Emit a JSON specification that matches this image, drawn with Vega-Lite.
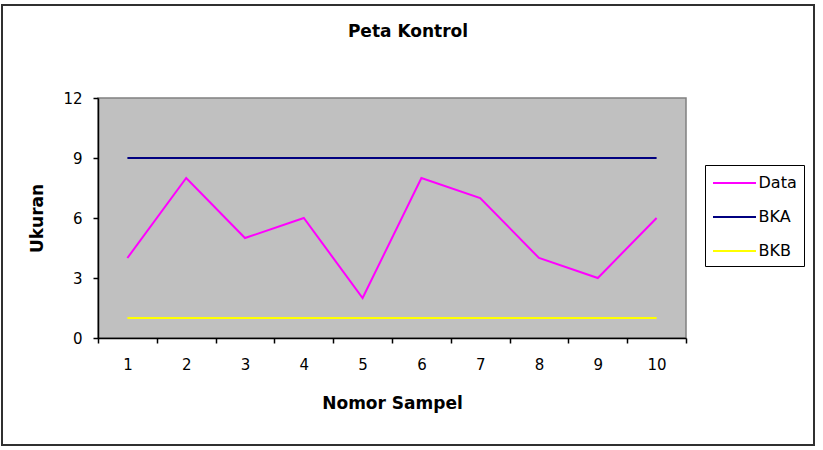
{
  "$schema": "https://vega.github.io/schema/vega-lite/v6.json",
  "width": 812,
  "height": 440,
  "autosize": {"type": "none"},
  "padding": {"left": 2, "top": 5, "right": 9, "bottom": 5},
  "background": "white",
  "config": {
    "view": {"stroke": "#303030", "strokeWidth": 2},
    "font": "DejaVu Sans"
  },
  "title": {
    "text": "Peta Kontrol",
    "anchor": "middle",
    "offset": -36,
    "fontSize": 17,
    "fontWeight": "bold",
    "font": "DejaVu Sans",
    "color": "black"
  },
  "layer": [
    {
      "data": {"values": [{}]},
      "mark": {"type": "rect", "fill": "#C0C0C0", "stroke": "#808080", "strokeWidth": 1.5},
      "encoding": {
        "x": {"datum": 0, "type": "quantitative", "scale": {"domain": [0, 1], "range": [96, 684]}, "axis": null},
        "x2": {"datum": 1},
        "y": {"datum": 0, "type": "quantitative", "scale": {"domain": [0, 12], "range": [333, 93]}, "axis": null},
        "y2": {"datum": 12}
      }
    },
    {
      "data": {
        "values": [
          {"Nomor": 1, "Ukuran": 4, "Seri": "Data"},
          {"Nomor": 2, "Ukuran": 8, "Seri": "Data"},
          {"Nomor": 3, "Ukuran": 5, "Seri": "Data"},
          {"Nomor": 4, "Ukuran": 6, "Seri": "Data"},
          {"Nomor": 5, "Ukuran": 2, "Seri": "Data"},
          {"Nomor": 6, "Ukuran": 8, "Seri": "Data"},
          {"Nomor": 7, "Ukuran": 7, "Seri": "Data"},
          {"Nomor": 8, "Ukuran": 4, "Seri": "Data"},
          {"Nomor": 9, "Ukuran": 3, "Seri": "Data"},
          {"Nomor": 10, "Ukuran": 6, "Seri": "Data"},
          {"Nomor": 1, "Ukuran": 9, "Seri": "BKA"},
          {"Nomor": 2, "Ukuran": 9, "Seri": "BKA"},
          {"Nomor": 3, "Ukuran": 9, "Seri": "BKA"},
          {"Nomor": 4, "Ukuran": 9, "Seri": "BKA"},
          {"Nomor": 5, "Ukuran": 9, "Seri": "BKA"},
          {"Nomor": 6, "Ukuran": 9, "Seri": "BKA"},
          {"Nomor": 7, "Ukuran": 9, "Seri": "BKA"},
          {"Nomor": 8, "Ukuran": 9, "Seri": "BKA"},
          {"Nomor": 9, "Ukuran": 9, "Seri": "BKA"},
          {"Nomor": 10, "Ukuran": 9, "Seri": "BKA"},
          {"Nomor": 1, "Ukuran": 1, "Seri": "BKB"},
          {"Nomor": 2, "Ukuran": 1, "Seri": "BKB"},
          {"Nomor": 3, "Ukuran": 1, "Seri": "BKB"},
          {"Nomor": 4, "Ukuran": 1, "Seri": "BKB"},
          {"Nomor": 5, "Ukuran": 1, "Seri": "BKB"},
          {"Nomor": 6, "Ukuran": 1, "Seri": "BKB"},
          {"Nomor": 7, "Ukuran": 1, "Seri": "BKB"},
          {"Nomor": 8, "Ukuran": 1, "Seri": "BKB"},
          {"Nomor": 9, "Ukuran": 1, "Seri": "BKB"},
          {"Nomor": 10, "Ukuran": 1, "Seri": "BKB"}
        ]
      },
      "mark": {"type": "line", "strokeWidth": 2},
      "encoding": {
        "x": {
          "field": "Nomor",
          "type": "ordinal",
          "bandPosition": 0.5,
          "scale": {"type": "band", "paddingInner": 0, "paddingOuter": 0, "range": [96, 684]},
          "axis": {
            "title": "Nomor Sampel",
            "labelAngle": 0,
            "tickBand": "extent",
            "offset": -107,
            "grid": false,
            "domainColor": "black",
            "domainWidth": 1.5,
            "tickColor": "black",
            "tickWidth": 1.5,
            "tickSize": 5,
            "labelFontSize": 15,
            "labelColor": "black",
            "labelPadding": 14,
            "titleFontSize": 17,
            "titleFontWeight": "bold",
            "titleColor": "black",
            "titlePadding": 23,
            "zindex": 1
          }
        },
        "y": {
          "field": "Ukuran",
          "type": "quantitative",
          "scale": {"domain": [0, 12], "range": [333, 93]},
          "axis": {
            "title": "Ukuran",
            "values": [0, 3, 6, 9, 12],
            "offset": -96,
            "grid": false,
            "domainColor": "black",
            "domainWidth": 1.5,
            "tickColor": "black",
            "tickWidth": 1.5,
            "tickSize": 5,
            "labelFontSize": 15,
            "labelColor": "black",
            "labelPadding": 11,
            "titleFontSize": 17,
            "titleFontWeight": "bold",
            "titleColor": "black",
            "titlePadding": 16,
            "zindex": 1
          }
        },
        "color": {
          "field": "Seri",
          "type": "nominal",
          "scale": {"domain": ["Data", "BKA", "BKB"], "range": ["#FF00FF", "#000080", "#FFFF00"]},
          "legend": {
            "orient": "none",
            "legendX": 703,
            "legendY": 160,
            "title": null,
            "strokeColor": "black",
            "padding": 7,
            "symbolType": "M-2.15,0H2.15",
            "symbolSize": 400,
            "symbolOffset": 11.5,
            "symbolStrokeWidth": 2,
            "labelFontSize": 16,
            "labelColor": "black",
            "labelOffset": 13,
            "rowPadding": 15
          }
        }
      }
    }
  ],
  "resolve": {"scale": {"x": "independent", "y": "independent"}}
}
